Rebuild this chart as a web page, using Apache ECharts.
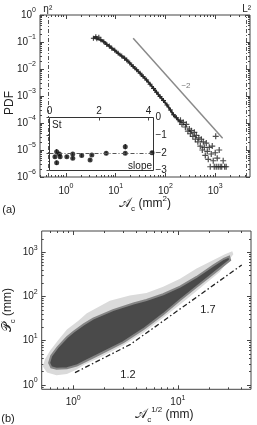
<!DOCTYPE html>
<html>
<head>
<meta charset="utf-8">
<script src="https://cdn.jsdelivr.net/npm/echarts@6/dist/echarts.min.js"></script>
<style>
  html, body { margin: 0; padding: 0; background: #fff; }
  #main { width: 257px; height: 425px; }
</style>
</head>
<body>
<div id="main"></div>
<script>
// (a) PDF of cluster area
const pdfX = [3.55, 3.98, 4.17, 4.57, 5.01, 5.75, 6.61, 7.41, 8.32, 9.55, 11.2, 13.2, 15.1, 16.6, 19.1,
  22.4, 26.3, 30.9, 35.5, 41.7, 49.0, 57.5, 66.1, 77.6, 91.2, 107, 126, 145, 166, 195]
const pdfY = [0.138, 0.158, 0.132, 0.151, 0.120, 0.102, 0.0813, 0.0708, 0.0589, 0.0490, 0.0380, 0.0302,
  0.0251, 0.0214, 0.0166, 0.0123, 0.00933, 0.00692, 0.00525, 0.00389, 0.00275, 0.00191, 0.00138,
  0.000955, 0.000676, 0.000468, 0.000302, 0.000200, 0.000158, 0.000112]
const tailX = [200, 214, 229, 251, 263, 282, 302, 316, 331, 355, 380, 398, 417, 447, 468, 501, 525, 550,
  575, 603, 631, 661, 692, 724, 759, 794, 832, 871, 912, 955, 1000, 1023, 1047, 1096, 1148, 1202, 1259,
  1349, 1445, 1549, 1660]
const tailY = [1.26e-4, 8.9e-5, 1.05e-4, 7.1e-5, 8.9e-5, 5.0e-5, 6.0e-5, 4.0e-5, 5.2e-5, 3.2e-5, 4.5e-5,
  2.5e-5, 3.5e-5, 2.0e-5, 2.8e-5, 1.4e-5, 2.5e-5, 1.0e-5, 2.0e-5, 1.26e-5, 6.3e-6, 1.8e-5, 8.9e-6, 4.5e-6,
  1.26e-5, 2.4e-6, 7.1e-6, 1.4e-5, 4.0e-6, 2.4e-6, 7.9e-6, 3.2e-5, 2.4e-6, 5.0e-6, 2.4e-6, 1.0e-5, 2.4e-6,
  2.4e-6, 4.0e-6, 2.4e-6, 2.4e-6]
const refX = [22.4, 1410]
const refY = [0.138, 2.7e-5]
const etaArea = 0.43
const lArea = 4270
const areaTicks = [1, 10, 100, 1000]
const pdfTicks = [1e-6, 1e-5, 1e-4, 1e-3, 1e-2, 1e-1, 1]

// inset: slope vs St
const stVals = [0.29, 0.40, 0.22, 0.43, 0.29, 0.70, 0.94, 0.94, 1.30, 1.64, 1.71, 2.29, 3.06, 3.06, 4.14]
const slopeVals = [-1.94, -2.07, -2.22, -2.22, -2.56, -2.22, -2.07, -2.31, -2.15, -2.40, -2.12, -2.03, -1.65, -2.03, -1.99]
const slopeErr = [0.15, 0.1, 0.1, 0.1, 0.12, 0.08, 0.08, 0.08, 0.1, 0.08, 0.08, 0.1, 0.15, 0.08, 0.1]
const stTicks = [0, 2, 4]
const slopeTicks = [-3, -2, -1, 0]

// (b) perimeter vs sqrt(area), cloud outline
const denseX = [0.589, 0.617, 0.708, 0.871, 1.0, 1.26, 1.55, 2.40, 3.76, 5.01, 7.24, 10.5, 15.1, 21.9, 27.5, 30.9,
  31.6, 21.9, 15.1, 10.5, 7.24, 4.68, 3.02, 1.80, 1.26, 1.08, 0.871, 0.692, 0.617]
const denseY = [3.16, 4.57, 7.08, 12.0, 15.8, 23.4, 31.6, 49.0, 69.2, 83.2, 112, 166, 275, 501, 708, 794,
  661, 331, 166, 83.2, 39.8, 18.2, 9.33, 5.01, 3.31, 2.75, 2.40, 2.34, 2.51]
const fringeX = [0.513, 0.537, 0.603, 0.724, 0.871, 1.12, 1.35, 2.24, 3.47, 5.01, 7.24, 10.5, 15.1, 21.9, 28.2, 33.1,
  33.9, 25.1, 15.1, 10.5, 7.24, 4.68, 3.02, 1.80, 1.26, 1.08, 0.871, 0.692, 0.562]
const fringeY = [2.63, 3.80, 6.03, 10.5, 17.8, 28.2, 41.7, 79.4, 105, 120, 166, 251, 427, 661, 891, 1047,
  891, 355, 132, 66.1, 33.1, 15.1, 7.94, 4.17, 2.82, 2.24, 1.78, 1.66, 1.91]
const fitX = [1.04, 3.53, 40.8]
const fitY = [1.9, 8.3, 512]
const sqrtTicks = [1, 10]
const perimTicks = [1, 10, 100, 1000]

const FONT = 'Liberation Sans'
const INK = '#222'
const FRAME = '#444'
const CROSS = 'path://M4,0h2v4h4v2h-4v4h-2v-4h-4v-2h4z'
const DASHDOT = [4, 2, 1, 2]

function pow10(v) {
  const e = Math.round(Math.log10(v))
  return '{b|10}{s|' + (e < 0 ? '\u2212' + (-e) : e) + '}'
}
const tickRich = {
  b: { fontSize: 10, lineHeight: 16, fontFamily: FONT, color: INK },
  s: { fontSize: 7, lineHeight: 8, verticalAlign: 'top', fontFamily: FONT, color: INK }
}
const titleRich = {
  t: { fontSize: 12, lineHeight: 18, fontFamily: FONT, color: INK },
  m: { fontSize: 13, lineHeight: 18, fontFamily: 'DejaVu Sans', color: INK },
  sub: { fontSize: 8, lineHeight: 8, verticalAlign: 'bottom', fontFamily: FONT, color: INK },
  sup: { fontSize: 8, lineHeight: 8, verticalAlign: 'top', fontFamily: FONT, color: INK }
}

function minorTicks(min, max) {
  const out = []
  for (let e = Math.floor(Math.log10(min)); e <= Math.ceil(Math.log10(max)); e++) {
    for (let k = 2; k <= 9; k++) {
      const v = k * Math.pow(10, e)
      if (v > min && v < max) out.push(v)
    }
  }
  return out
}

// major + minor tick axes for one side of a log panel
function logAxes(grid, pos, min, max, ticks, margin) {
  const base = {
    type: 'log', gridIndex: grid, position: pos, min: min, max: max,
    axisLine: { show: false }, splitLine: { show: false }
  }
  const major = Object.assign({}, base, {
    axisTick: { inside: true, length: 4, customValues: ticks, lineStyle: { color: FRAME } },
    axisLabel: margin != null
      ? { customValues: ticks, formatter: pow10, rich: tickRich, margin: margin }
      : { show: false }
  })
  const minor = Object.assign({}, base, {
    axisTick: { inside: true, length: 2, customValues: minorTicks(min, max), lineStyle: { color: FRAME } },
    axisLabel: { show: false }
  })
  return [major, minor]
}

function outline(xs, ys, fill, stroke) {
  return function (params, api) {
    const pts = xs.map((x, i) => api.coord([x, ys[i]]))
    return {
      type: 'polygon',
      shape: { points: pts },
      style: { fill: fill, stroke: stroke || null, lineWidth: stroke ? 2 : 0 }
    }
  }
}

const xAxes = [].concat(
  logAxes(0, 'bottom', 0.3, 5000, areaTicks, 6),
  logAxes(0, 'top', 0.3, 5000, areaTicks, null),
  [{
    type: 'value', gridIndex: 1, position: 'top', min: 0, max: 4.2,
    axisLine: { show: false }, splitLine: { show: false },
    axisTick: { inside: true, length: 3, customValues: stTicks, lineStyle: { color: FRAME } },
    axisLabel: { customValues: stTicks, margin: 1, fontSize: 10, fontFamily: FONT, color: INK }
  }],
  logAxes(2, 'bottom', 0.5, 50, sqrtTicks, 5),
  logAxes(2, 'top', 0.5, 50, sqrtTicks, null)
)
const yAxes = [].concat(
  logAxes(0, 'left', 1e-6, 1, pdfTicks, 4),
  logAxes(0, 'right', 1e-6, 1, pdfTicks, null),
  [{
    type: 'value', gridIndex: 1, position: 'right', min: -3, max: 0,
    axisLine: { show: false }, splitLine: { show: false },
    axisTick: { inside: true, length: 3, customValues: slopeTicks, lineStyle: { color: FRAME } },
    axisLabel: {
      customValues: slopeTicks, margin: 2, fontSize: 10, fontFamily: FONT, color: INK,
      formatter: v => (v < 0 ? '\u2212' + (-v) : String(v))
    }
  }],
  logAxes(2, 'left', 0.8, 3000, perimTicks, 4),
  logAxes(2, 'right', 0.8, 3000, perimTicks, null)
)

// axis titles
Object.assign(xAxes[0], {
  name: '{m|𝒜}{sub|c}{t| (mm}{sup|2}{t|)}', nameLocation: 'middle', nameGap: 18, nameMoveOverlap: false,
  nameTextStyle: { rich: titleRich }
})
Object.assign(yAxes[0], {
  name: 'PDF', nameLocation: 'middle', nameGap: 24, nameRotate: 90, nameMoveOverlap: false,
  nameTextStyle: { fontSize: 12, fontFamily: FONT, color: INK, padding: [0, 14, 0, 0] }
})
Object.assign(xAxes[5], {
  name: '{m|𝒜}{sub|c}{sup|1/2}{t| (mm)}', nameLocation: 'middle', nameGap: 16, nameMoveOverlap: false,
  nameTextStyle: { rich: titleRich, padding: [0, 0, 0, 36] }
})
Object.assign(yAxes[5], {
  name: '{m|𝒫}{sub|c}{t| (mm)}', nameLocation: 'middle', nameGap: 25, nameRotate: 90, nameMoveOverlap: false,
  nameTextStyle: { rich: titleRich }
})

const myChart = echarts.init(document.getElementById('main'), null, { renderer: 'canvas' })
myChart.setOption({
  animation: false,
  backgroundColor: '#fff',
  textStyle: { fontFamily: FONT },
  grid: [
    { left: 40, top: 15, width: 210, height: 162, outerBoundsMode: 'none', show: true, borderColor: FRAME, borderWidth: 1 },
    { left: 49.5, top: 117.5, width: 104, height: 53, outerBoundsMode: 'none', show: true, borderColor: '#333', borderWidth: 1, backgroundColor: '#fff' },
    { left: 41.7, top: 231, width: 209.3, height: 158.3, outerBoundsMode: 'none', show: true, borderColor: FRAME, borderWidth: 1 }
  ],
  xAxis: xAxes,
  yAxis: yAxes,
  series: [
    {
      type: 'line', xAxisIndex: 0, yAxisIndex: 0,
      data: refX.map((x, i) => [x, refY[i]]),
      symbol: 'none', lineStyle: { color: '#8a8a8a', width: 1.5 },
      markLine: {
        silent: true, symbol: ['none', 'none'],
        lineStyle: { type: DASHDOT, color: '#555', width: 1 },
        label: {
          position: 'end', distance: 1, formatter: p => p.name,
          fontSize: 10, fontFamily: FONT, color: INK
        },
        data: [{ xAxis: etaArea, name: 'η²' }, { xAxis: lArea, name: 'L²' }]
      }
    },
    {
      type: 'line', xAxisIndex: 0, yAxisIndex: 0,
      data: pdfX.map((x, i) => [x, pdfY[i]]),
      symbol: CROSS, symbolSize: 5, showSymbol: true,
      lineStyle: { color: '#2a2a2a', width: 2.2 },
      itemStyle: { color: '#2a2a2a' }
    },
    {
      type: 'scatter', xAxisIndex: 0, yAxisIndex: 0,
      data: tailX.map((x, i) => [x, tailY[i]]),
      symbol: CROSS, symbolSize: 6,
      itemStyle: { color: '#222' }
    },
    {
      type: 'custom', xAxisIndex: 4, yAxisIndex: 4,
      data: stVals.map((s, i) => [s, slopeVals[i] - slopeErr[i], slopeVals[i] + slopeErr[i]]),
      renderItem: function (params, api) {
        const p1 = api.coord([api.value(0), api.value(1)])
        const p2 = api.coord([api.value(0), api.value(2)])
        return {
          type: 'line',
          shape: { x1: p1[0], y1: p1[1], x2: p2[0], y2: p2[1] },
          style: { stroke: '#111', lineWidth: 1 }
        }
      }
    },
    {
      type: 'scatter', xAxisIndex: 4, yAxisIndex: 4,
      data: stVals.map((s, i) => [s, slopeVals[i]]),
      symbolSize: 5, itemStyle: { color: '#111' },
      markLine: {
        silent: true, symbol: ['none', 'none'],
        lineStyle: { type: DASHDOT, color: '#555', width: 1 },
        label: { show: false },
        data: [{ yAxis: -2 }]
      }
    },
    {
      type: 'custom', xAxisIndex: 5, yAxisIndex: 5,
      data: [[fringeX[0], fringeY[0]]],
      renderItem: outline(fringeX, fringeY, '#dadada')
    },
    {
      type: 'custom', xAxisIndex: 5, yAxisIndex: 5,
      data: [[denseX[0], denseY[0]]],
      renderItem: outline(denseX, denseY, '#4a4a4a', '#858585')
    },
    {
      type: 'line', xAxisIndex: 5, yAxisIndex: 5,
      data: fitX.map((x, i) => [x, fitY[i]]),
      symbol: 'none',
      lineStyle: { type: [5, 2.5, 1.5, 2.5], color: '#222', width: 1.3 }
    }
  ],
  graphic: [
    { type: 'text', x: 9, y: 210, z: 100, style: { text: '(a)', align: 'center', verticalAlign: 'middle', fontSize: 11, fontFamily: FONT, fill: INK } },
    { type: 'text', x: 8, y: 419, z: 100, style: { text: '(b)', align: 'center', verticalAlign: 'middle', fontSize: 11, fontFamily: FONT, fill: INK } },
    { type: 'text', x: 186, y: 86, z: 100, style: { text: '\u22122', align: 'center', verticalAlign: 'middle', fontSize: 8, fontFamily: FONT, fill: '#777' } },
    { type: 'text', x: 52, y: 125, z: 100, style: { text: 'St', align: 'left', verticalAlign: 'middle', fontSize: 10, fontFamily: FONT, fill: INK } },
    { type: 'text', x: 152, y: 166, z: 100, style: { text: 'slope', align: 'right', verticalAlign: 'middle', fontSize: 10, fontFamily: FONT, fill: INK } },
    { type: 'text', x: 128, y: 375, z: 100, style: { text: '1.2', align: 'center', verticalAlign: 'middle', fontSize: 11, fontFamily: FONT, fill: INK } },
    { type: 'text', x: 208, y: 310, z: 100, style: { text: '1.7', align: 'center', verticalAlign: 'middle', fontSize: 11, fontFamily: FONT, fill: INK } }
  ]
})
</script>
</body>
</html>
